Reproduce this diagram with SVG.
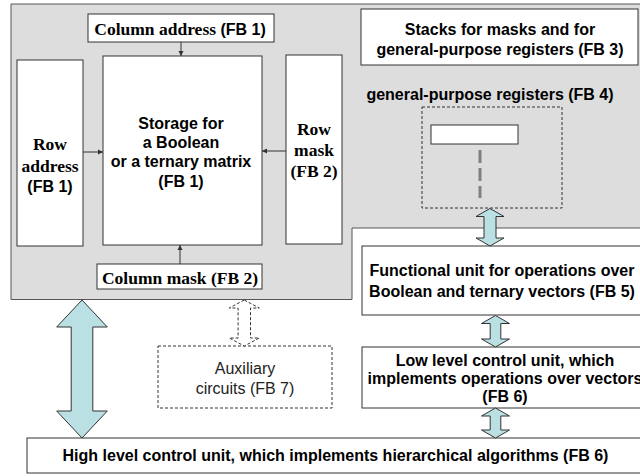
<svg xmlns="http://www.w3.org/2000/svg" width="640" height="476" viewBox="0 0 640 476">
<defs>
<style>
.box{fill:#fff;stroke:#333;stroke-width:1}
.dbox{fill:none;stroke:#333;stroke-width:1;stroke-dasharray:3,2}
.serif{font-family:"Liberation Serif","Times New Roman",serif;font-weight:bold;font-size:17.5px;fill:#000}
.sans{font-family:"Liberation Sans",Arial,sans-serif;font-weight:bold;font-size:16px;fill:#000}
.reg{font-family:"Liberation Sans",Arial,sans-serif;font-size:16px;fill:#222}
.thin{stroke:#333;stroke-width:1;fill:none;marker-end:url(#ah)}
.big{fill:#bbe0e3;stroke:#333;stroke-width:1}
.dash{fill:#fff;stroke:#333;stroke-width:1;stroke-dasharray:3,2}
</style>
<marker id="ah" markerWidth="6" markerHeight="6" refX="5" refY="3" orient="auto" markerUnits="userSpaceOnUse">
<path d="M0,0.5 L5,3 L0,5.5 Z" fill="#333"/>
</marker>
</defs>

<g id="container">
<path d="M11,4 H645 V228 H352 V299.5 H11 Z" fill="#dddddd" stroke="#555" stroke-width="1"/>
</g>

<g id="column-address">
<rect class="box" x="88" y="14" width="186" height="28"/>
<text x="180" y="35" text-anchor="middle"><tspan class="serif">Column address </tspan><tspan class="sans">(FB 1)</tspan></text>
</g>

<g id="row-address">
<rect class="box" x="17" y="60" width="66" height="186"/>
<text class="serif" x="50" y="150" text-anchor="middle">Row</text>
<text class="serif" x="50" y="172" text-anchor="middle">address</text>
<text class="sans" x="50" y="192" text-anchor="middle">(FB 1)</text>
</g>

<g id="storage">
<rect class="box" x="103" y="56" width="159" height="189"/>
<text class="sans" x="181" y="129" text-anchor="middle">Storage for</text>
<text class="sans" x="181" y="148" text-anchor="middle">a Boolean</text>
<text class="sans" x="181" y="167" text-anchor="middle">or a ternary matrix</text>
<text class="sans" x="181" y="187" text-anchor="middle">(FB 1)</text>
</g>

<g id="row-mask">
<rect class="box" x="286" y="55" width="56" height="189"/>
<text class="serif" x="314" y="135" text-anchor="middle">Row</text>
<text class="serif" x="314" y="156" text-anchor="middle">mask</text>
<text class="serif" x="314" y="177" text-anchor="middle">(FB 2)</text>
</g>

<g id="column-mask">
<rect class="box" x="97" y="264" width="165" height="25"/>
<text class="serif" x="180" y="284" text-anchor="middle">Column mask (FB 2)</text>
</g>

<g id="stacks">
<rect class="box" x="361" y="9" width="277" height="56"/>
<text class="sans" x="500" y="35" text-anchor="middle">Stacks for masks and for</text>
<text class="sans" x="500" y="55" text-anchor="middle">general-purpose registers (FB 3)</text>
</g>

<g id="gp-registers">
<text class="sans" x="490" y="100" text-anchor="middle">general-purpose registers (FB 4)</text>
<rect class="dbox" x="422" y="107" width="140" height="101"/>
<rect class="box" x="431" y="125" width="87" height="19"/>
<line x1="480" y1="150" x2="480" y2="198" stroke="#808080" stroke-width="3" stroke-dasharray="13,5"/>
</g>

<g id="functional-unit">
<rect class="box" x="362" y="246" width="290" height="69"/>
<text class="sans" x="502" y="276" text-anchor="middle">Functional unit for operations over</text>
<text class="sans" x="502" y="297" text-anchor="middle">Boolean and ternary vectors (FB 5)</text>
</g>

<g id="low-level">
<rect class="box" x="362" y="347" width="290" height="61"/>
<text class="sans" x="505" y="366" text-anchor="middle">Low level control unit, which</text>
<text class="sans" x="505" y="384" text-anchor="middle">implements operations over vectors</text>
<text class="sans" x="505" y="402" text-anchor="middle">(FB 6)</text>
</g>

<g id="auxiliary">
<rect class="dbox" x="158" y="346" width="174" height="62"/>
<text class="reg" x="245" y="374" text-anchor="middle">Auxiliary</text>
<text class="reg" x="245" y="394" text-anchor="middle">circuits (FB 7)</text>
</g>

<g id="high-level">
<rect class="box" x="27" y="438" width="620" height="35"/>
<text class="sans" x="335.5" y="461" text-anchor="middle">High level control unit, which implements hierarchical algorithms (FB 6)</text>
</g>

<g id="connectors">
<line class="thin" x1="181" y1="42" x2="181" y2="56"/>
<line class="thin" x1="83" y1="152" x2="103" y2="152"/>
<line class="thin" x1="286" y1="151" x2="262" y2="151"/>
<line class="thin" x1="180" y1="264" x2="180" y2="245"/>
<path class="big" d="M82,300 L107.3,327 L92.8,327 L92.8,411 L107.3,411 L82,438 L56.7,411 L71.2,411 L71.2,327 L56.7,327 Z"/>
<path class="dash" d="M244.3,300 L259.3,308 L250.5,308 L250.5,338 L259.3,338 L244.3,346 L229.3,338 L238.1,338 L238.1,308 L229.3,308 Z"/>
<path class="big" d="M490,208.5 L504,216.5 L496,216.5 L496,238 L504,238 L490,246 L476,238 L484,238 L484,216.5 L476,216.5 Z"/>
<path class="big" d="M495.5,315.5 L509.5,323.5 L500.8,323.5 L500.8,339 L509.5,339 L495.5,347 L481.5,339 L490.2,339 L490.2,323.5 L481.5,323.5 Z"/>
<path class="big" d="M495.5,408 L509.5,416 L500.8,416 L500.8,430 L509.5,430 L495.5,438 L481.5,430 L490.2,430 L490.2,416 L481.5,416 Z"/>
</g>
</svg>
